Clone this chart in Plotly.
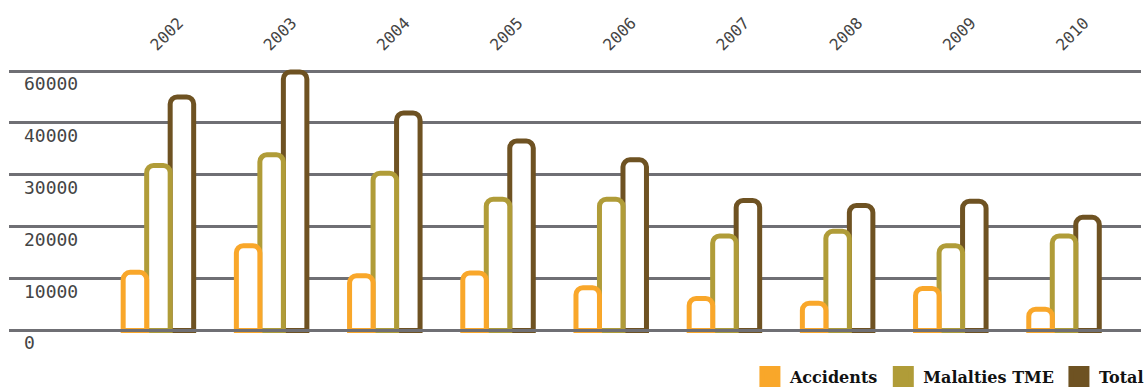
import plotly.graph_objects as go

years = ["2002", "2003", "2004", "2005", "2006", "2007", "2008", "2009", "2010"]
accidents = [11200, 16350, 10550, 11070, 8240, 6180, 5270, 8110, 4110]
malalties = [31800, 33850, 30300, 25300, 25300, 18200, 19100, 16350, 18200]
total = [45000, 49800, 41900, 36500, 32880, 25040, 24070, 24900, 21800]

y_tickvals = [0, 10000, 20000, 30000, 40000, 50000]
y_ticktext = ["0", "10000", "20000", "30000", "40000", "60000"]

series_names = ["Accidents", "Malalties TME", "Total"]
colors = ["#F9A72A", "#B09C38", "#6E5222"]
grid_color = "#6F6F74"

W = 0.2076  # bar width in category units
offsets = [-1.5 * W, -0.5 * W, 0.5 * W]
values = [accidents, malalties, total]

fig = go.Figure()
# draw right-most first so left bars overlap on top
for i in [2, 1, 0]:
    fig.add_trace(go.Bar(
        x=years, y=values[i], name=series_names[i],
        width=W, offset=offsets[i],
        marker=dict(color="#FFFFFF",
                    line=dict(color=colors[i], width=5), cornerradius=7),
        showlegend=False, hoverinfo="x+y",
    ))

# legend keys
for i in range(3):
    fig.add_trace(go.Scatter(
        x=[None], y=[None], mode="markers", name=series_names[i],
        marker=dict(symbol="square", size=16, color=colors[i],
                    line=dict(color=colors[i], width=5)),
        showlegend=True,
    ))

fig.update_layout(
    width=1146, height=390,
    margin=dict(l=9, r=5, t=68, b=57, autoexpand=False),
    paper_bgcolor="white", plot_bgcolor="white",
    barmode="overlay",
    xaxis=dict(
        type="category", range=[-1.32, 8.68], side="top",
        tickangle=-45, showgrid=False, zeroline=False, showline=False,
        ticks="", ticklabelstandoff=10, ticklabelshift=-7,
        tickfont=dict(family="DejaVu Sans Mono", size=16, color="#444444"),
    ),
    yaxis=dict(
        range=[-482, 50578], tickvals=y_tickvals, ticktext=y_ticktext,
        showgrid=True, gridcolor=grid_color, gridwidth=2.5,
        zeroline=False, showline=False, ticks="",
        ticklabelposition="inside bottom", ticklabeloverflow="allow",
        ticklabelstandoff=12,
        tickfont=dict(family="DejaVu Sans Mono", size=18, color="#444444"),
    ),
    legend=dict(
        orientation="h", x=1.007, xanchor="right", y=-0.1, yanchor="top",
        font=dict(family="DejaVu Serif", size=16, color="#111111", weight="bold"),
        bgcolor="rgba(0,0,0,0)", traceorder="normal",
    ),
    shapes=[dict(type="line", xref="paper", x0=0, x1=1, yref="y", y0=0, y1=0,
                 line=dict(color=grid_color, width=3), layer="above")],
)

fig.write_html("out.html")
